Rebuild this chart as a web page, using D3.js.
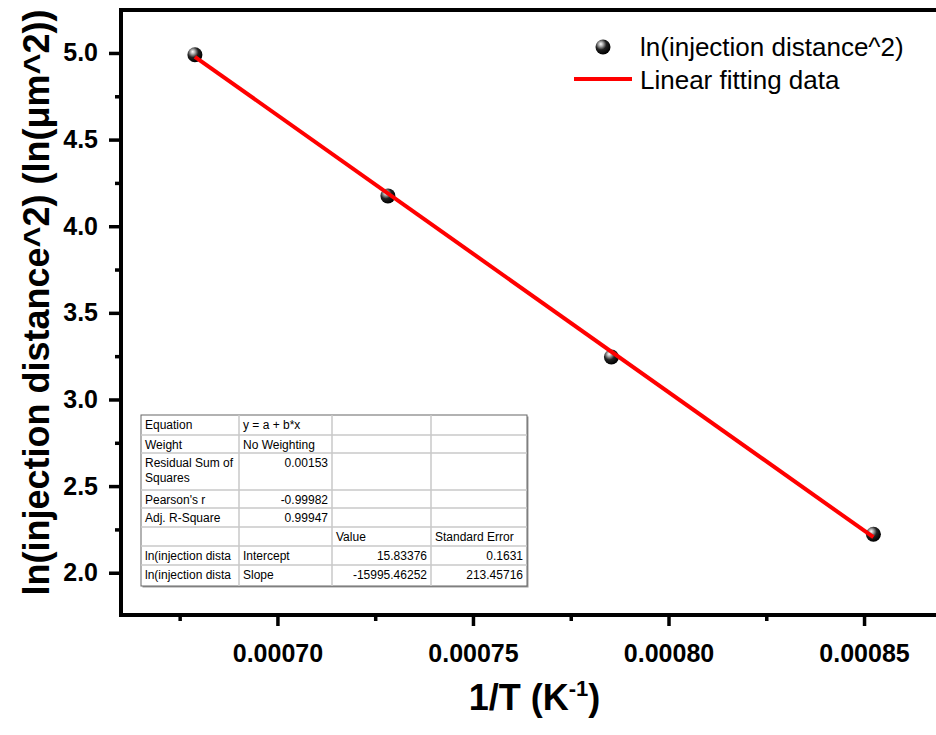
<!DOCTYPE html>
<html>
<head>
<meta charset="utf-8">
<script src="https://cdn.jsdelivr.net/npm/d3@7"></script>
<style>
  body { margin: 0; background: #fff; }
  svg { display: block; font-family: Arial, "Liberation Sans", sans-serif; }
</style>
</head>
<body>
<svg width="936" height="735"></svg>
<script>
// measured points: 1/T (K^-1) and ln(distance^2)
const invT = [0.0006789, 0.00072825, 0.0007854, 0.0008524];
const lnDist = [4.99, 4.175, 3.245, 2.222];

// fitted line end points
const fitX = [0.0006789, 0.0008524];
const fitY = [4.978, 2.205];

const xTicks = [0.00070, 0.00075, 0.00080, 0.00085];
const xMinor = [0.000675, 0.000725, 0.000775, 0.000825];
const yTicks = [2.0, 2.5, 3.0, 3.5, 4.0, 4.5, 5.0];
const yMinor = [2.25, 2.75, 3.25, 3.75, 4.25, 4.75];

const legendLabels = ['ln(injection distance^2)', 'Linear fitting data'];

// fit report table
const tableRows = [
  ['Equation', 'y = a + b*x', '', ''],
  ['Weight', 'No Weighting', '', ''],
  ['Residual Sum of\nSquares', '0.00153', '', ''],
  ["Pearson's r", '-0.99982', '', ''],
  ['Adj. R-Square', '0.99947', '', ''],
  ['', '', 'Value', 'Standard Error'],
  ['ln(injection dista', 'Intercept', '15.83376', '0.1631'],
  ['ln(injection dista', 'Slope', '-15995.46252', '213.45716']
];

const svg = d3.select('svg');
const padLeft = 121, padRight = 936, padTop = 10, padBottom = 615;

const x = d3.scaleLinear().domain([0.00066, 0.0008684]).range([padLeft, padRight]);
const y = d3.scaleLinear().domain([1.756, 5.248]).range([padBottom, padTop]);

const defs = svg.append('defs');
const grad = defs.append('radialGradient')
  .attr('id', 'ball').attr('cx', '38%').attr('cy', '35%').attr('r', '65%')
  .attr('fx', '35%').attr('fy', '30%');
grad.append('stop').attr('offset', '0%').attr('stop-color', '#ffffff');
grad.append('stop').attr('offset', '22%').attr('stop-color', '#b0b0b0');
grad.append('stop').attr('offset', '55%').attr('stop-color', '#222');
grad.append('stop').attr('offset', '100%').attr('stop-color', '#000');

// axes
const xAxis = d3.axisBottom(x).tickValues(xTicks).tickSize(11).tickPadding(18)
  .tickFormat(d3.format('.5f'));
const xAxisMinor = d3.axisBottom(x).tickValues(xMinor).tickSize(6).tickFormat('');
const yAxis = d3.axisLeft(y).tickValues(yTicks).tickSize(12).tickPadding(11)
  .tickFormat(d3.format('.1f'));
const yAxisMinor = d3.axisLeft(y).tickValues(yMinor).tickSize(6).tickFormat('');

const gx = svg.append('g').attr('transform', `translate(0,${padBottom})`).call(xAxis);
svg.append('g').attr('transform', `translate(0,${padBottom})`).call(xAxisMinor);
const gy = svg.append('g').attr('transform', `translate(${padLeft},0)`).call(yAxis);
svg.append('g').attr('transform', `translate(${padLeft},0)`).call(yAxisMinor);

svg.selectAll('.domain').remove();
svg.selectAll('.tick line').attr('stroke', '#000').attr('stroke-width', 3.5);
gx.selectAll('text').attr('font-size', 25).attr('font-weight', 'bold').attr('fill', '#000')
  .attr('font-family', 'Arial, "Liberation Sans", sans-serif');
gy.selectAll('text').attr('font-size', 25).attr('font-weight', 'bold').attr('fill', '#000')
  .attr('font-family', 'Arial, "Liberation Sans", sans-serif');

// frame
svg.append('rect')
  .attr('x', padLeft).attr('y', padTop)
  .attr('width', padRight - padLeft + 10).attr('height', padBottom - padTop)
  .attr('fill', 'none').attr('stroke', '#000').attr('stroke-width', 4);

// axis titles
svg.append('text')
  .attr('transform', `translate(49,${(padTop + padBottom) / 2 - 10}) rotate(-90)`)
  .attr('text-anchor', 'middle')
  .attr('font-size', 36).attr('font-weight', 'bold')
  .text('ln(injection distance^2) (ln(μm^2))');

const xt = svg.append('text')
  .attr('x', (padLeft + padRight) / 2 + 6).attr('y', 710)
  .attr('text-anchor', 'middle')
  .attr('font-size', 36).attr('font-weight', 'bold');
xt.append('tspan').text('1/T (K');
xt.append('tspan').attr('font-size', 22).attr('dy', -14).text('-1');
xt.append('tspan').attr('dy', 14).text(')');

// fit table
const colX = [141, 239, 332, 431, 527];
const rowY = [415, 435, 453, 490, 508, 527, 546, 565, 586];
const tbl = svg.append('g').attr('font-size', 12);
tbl.append('rect').attr('x', colX[0] + 1.5).attr('y', rowY[0] + 1.5)
  .attr('width', colX[4] - colX[0]).attr('height', rowY[8] - rowY[0]).attr('fill', '#999');
tbl.append('rect').attr('x', colX[0]).attr('y', rowY[0])
  .attr('width', colX[4] - colX[0]).attr('height', rowY[8] - rowY[0])
  .attr('fill', '#fff').attr('stroke', '#666').attr('stroke-width', 1);
colX.slice(1, 4).forEach(cx => {
  tbl.append('line').attr('x1', cx).attr('x2', cx).attr('y1', rowY[0]).attr('y2', rowY[8])
    .attr('stroke', '#c8c8c8').attr('stroke-width', 1.5);
});
rowY.slice(1, 8).forEach(ry => {
  tbl.append('line').attr('x1', colX[0]).attr('x2', colX[4]).attr('y1', ry).attr('y2', ry)
    .attr('stroke', '#c8c8c8').attr('stroke-width', 1.5);
});
const isNum = s => /^-?[0-9.]+$/.test(s);
tableRows.forEach((row, ri) => {
  row.forEach((cell, ci) => {
    if (!cell) return;
    const alignRight = isNum(cell);
    const tx = alignRight ? colX[ci + 1] - 4 : colX[ci] + 4;
    const t = tbl.append('text')
      .attr('x', tx)
      .attr('y', rowY[ri] + 14)
      .attr('text-anchor', alignRight ? 'end' : 'start');
    cell.split('\n').forEach((part, k) => {
      t.append('tspan').attr('x', tx).attr('dy', k === 0 ? 0 : 15).text(part);
    });
  });
});

// scatter points
svg.append('g').selectAll('circle')
  .data(invT.map((v, i) => [v, lnDist[i]]))
  .join('circle')
  .attr('cx', d => x(d[0])).attr('cy', d => y(d[1]))
  .attr('r', 7.5).attr('fill', 'url(#ball)');

// fitted line
svg.append('path')
  .datum(fitX.map((v, i) => [v, fitY[i]]))
  .attr('fill', 'none').attr('stroke', '#ff0000').attr('stroke-width', 4)
  .attr('d', d3.line().x(d => x(d[0])).y(d => y(d[1])));

// legend
const lg = svg.append('g');
lg.append('circle').attr('cx', 603).attr('cy', 47).attr('r', 7.5).attr('fill', 'url(#ball)');
lg.append('line').attr('x1', 574).attr('x2', 632).attr('y1', 79).attr('y2', 79)
  .attr('stroke', '#ff0000').attr('stroke-width', 4);
lg.selectAll('text').data(legendLabels).join('text')
  .attr('x', 640).attr('y', (d, i) => 56 + i * 33)
  .attr('font-size', 26)
  .text(d => d);
</script>
</body>
</html>
